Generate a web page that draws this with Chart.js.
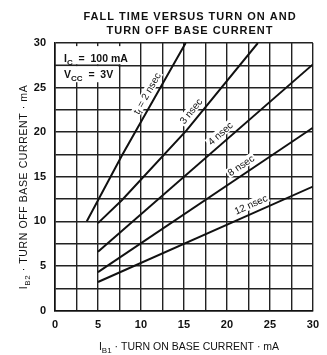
<!DOCTYPE html>
<html><head><meta charset="utf-8">
<script src="https://cdn.jsdelivr.net/npm/chart.js@4/dist/chart.umd.min.js"></script>
<style>html,body{margin:0;padding:0;background:#fff;}canvas{display:block;}</style>
</head><body>
<canvas id="c" width="327" height="355"></canvas>
<script>
// ---- data ----
const titleLines = ['FALL TIME VERSUS TURN ON AND', 'TURN OFF BASE CURRENT'];
const tickValues = [0, 5, 10, 15, 20, 25, 30];
const seriesNames = ['2 nsec', '3 nsec', '4 nsec', '8 nsec', '12 nsec'];
const ib1_2ns = [3.7, 7.8, 15.2];
const ib2_2ns = [10, 17.4, 30];
const ib1_3ns = [5, 7.8, 15.3, 23.6];
const ib2_3ns = [9.8, 12.4, 20.2, 30];
const ib1_4ns = [5, 30];
const ib2_4ns = [6.6, 27.6];
const ib1_8ns = [5, 30];
const ib2_8ns = [4.3, 20.5];
const ib1_12ns = [5, 30];
const ib2_12ns = [3.2, 13.9];
const condIc = '100 mA';
const condVcc = '3V';

const seriesX = [ib1_2ns, ib1_3ns, ib1_4ns, ib1_8ns, ib1_12ns];
const seriesY = [ib2_2ns, ib2_3ns, ib2_4ns, ib2_8ns, ib2_12ns];

// label placement (style): data x of anchor along the curve, perpendicular offset px
const labelAnchor = [11.6, 16.6, 19.9, 22.2, 23.2];
const labelOffset = [9, 9, 9, 9, 9];

const INK = '#111';
const GRID = '#222';
const FF = '"Liberation Sans", Arial, sans-serif';

function richWidth(ctx, parts) {
  let w = 0;
  for (const p of parts) { ctx.font = p.f; w += ctx.measureText(p.t).width; }
  return w;
}
function drawRich(ctx, parts, x, y, align) {
  const w = richWidth(ctx, parts);
  let cx = align === 'center' ? x - w / 2 : (align === 'right' ? x - w : x);
  ctx.textAlign = 'left';
  ctx.textBaseline = 'alphabetic';
  for (const p of parts) {
    ctx.font = p.f;
    ctx.fillText(p.t, cx, y + (p.dy || 0));
    cx += ctx.measureText(p.t).width;
  }
  return w;
}
function interp(xs, ys, x) {
  for (let i = 0; i < xs.length - 1; i++) {
    if (x >= xs[i] && x <= xs[i + 1]) {
      const t = (x - xs[i]) / (xs[i + 1] - xs[i]);
      return { y: ys[i] + t * (ys[i + 1] - ys[i]), i };
    }
  }
  return { y: ys[ys.length - 1], i: xs.length - 2 };
}

const decor = {
  id: 'decor',
  beforeDatasetsDraw(chart) {
    const { ctx, scales: { x, y } } = chart;
    ctx.save();
    ctx.fillStyle = '#fff';
    const xl = x.getPixelForValue(0) + 1;
    ctx.fillRect(xl, y.getPixelForValue(29.65), x.getPixelForValue(8.1) - xl, y.getPixelForValue(27.6) - y.getPixelForValue(29.65));
    ctx.fillRect(xl, y.getPixelForValue(27.4), x.getPixelForValue(7.35) - xl, y.getPixelForValue(25.6) - y.getPixelForValue(27.4));
    ctx.strokeStyle = GRID; ctx.lineWidth = 1.4;
    ctx.beginPath();
    ctx.moveTo(xl - 1, y.getPixelForValue(27.5));
    ctx.lineTo(x.getPixelForValue(7.6), y.getPixelForValue(27.5));
    ctx.stroke();
    ctx.fillStyle = INK;
    const bx = x.getPixelForValue(0) + 9;
    drawRich(ctx, [
      { t: 'I', f: 'bold 10.5px ' + FF },
      { t: 'C', f: 'bold 8px ' + FF, dy: 3 },
      { t: '  =  ' + condIc, f: 'bold 10.5px ' + FF }
    ], bx, y.getPixelForValue(27.85), 'left');
    drawRich(ctx, [
      { t: 'V', f: 'bold 10.5px ' + FF },
      { t: 'CC', f: 'bold 8px ' + FF, dy: 3 },
      { t: '  =  ' + condVcc, f: 'bold 10.5px ' + FF }
    ], bx, y.getPixelForValue(26.1), 'left');
    ctx.restore();
  },
  afterDatasetsDraw(chart) {
    const { ctx, scales: { x, y } } = chart;
    ctx.save();
    for (let s = 0; s < seriesNames.length; s++) {
      const xs = seriesX[s], ys = seriesY[s];
      const ax = labelAnchor[s];
      const r = interp(xs, ys, ax);
      const px = x.getPixelForValue(ax), py = y.getPixelForValue(r.y);
      const dx = x.getPixelForValue(xs[r.i + 1]) - x.getPixelForValue(xs[r.i]);
      const dy = y.getPixelForValue(ys[r.i + 1]) - y.getPixelForValue(ys[r.i]);
      const len = Math.hypot(dx, dy);
      const ux = dx / len, uy = dy / len;
      const nx = uy, ny = -ux;
      const cx = px + nx * labelOffset[s], cy = py + ny * labelOffset[s];
      const ang = Math.atan2(dy, dx);
      ctx.save();
      ctx.translate(cx, cy);
      ctx.rotate(ang);
      const f = '10px ' + FF;
      let parts;
      if (s === 0) {
        parts = [{ t: 't', f }, { t: 'f', f: '7.5px ' + FF, dy: 2.5 }, { t: ' = ' + seriesNames[s], f }];
      } else {
        parts = [{ t: seriesNames[s], f }];
      }
      const w = richWidth(ctx, parts);
      ctx.fillStyle = '#fff';
      ctx.fillRect(-w / 2 - 1.5, -5, w + 3, 10);
      ctx.fillStyle = INK;
      drawRich(ctx, parts, 0, 3.6, 'center');
      ctx.restore();
    }
    ctx.restore();
  },
  afterDraw(chart) {
    const { ctx } = chart;
    ctx.save();
    ctx.fillStyle = INK;
    ctx.font = 'bold 11px ' + FF;
    ctx.textAlign = 'center';
    ctx.textBaseline = 'alphabetic';
    ctx.letterSpacing = '1px';
    ctx.fillText(titleLines[0], 190, 19.5);
    ctx.fillText(titleLines[1], 190, 34);
    ctx.letterSpacing = '0px';
    const fx = '10.5px ' + FF;
    drawRich(ctx, [
      { t: 'I', f: fx },
      { t: 'B1', f: '8px ' + FF, dy: 3 },
      { t: ' · TURN ON BASE CURRENT · mA', f: fx }
    ], 189, 349.5, 'center');
    ctx.translate(27, 187);
    ctx.rotate(-Math.PI / 2);
    ctx.letterSpacing = '0.6px';
    drawRich(ctx, [
      { t: 'I', f: fx },
      { t: 'B2', f: '8px ' + FF, dy: 3 },
      { t: ' · TURN OFF BASE CURRENT · mA', f: fx }
    ], 0, 0, 'center');
    ctx.letterSpacing = '0px';
    ctx.restore();
  }
};

const datasets = seriesNames.map((n, s) => ({
  label: n,
  data: seriesX[s].map((v, i) => ({ x: v, y: seriesY[s][i] })),
  showLine: true,
  borderColor: INK,
  borderWidth: 2,
  pointRadius: 0,
  fill: false,
  tension: 0
}));

const tickCb = v => (tickValues.includes(v) ? String(v) : '');

new Chart(document.getElementById('c'), {
  type: 'scatter',
  data: { datasets },
  plugins: [decor],
  options: {
    responsive: false,
    animation: false,
    devicePixelRatio: 1,
    layout: { padding: { top: 43, right: 4, left: 0, bottom: 0 } },
    plugins: { legend: { display: false }, title: { display: false }, tooltip: { enabled: false } },
    scales: {
      x: {
        type: 'linear', min: 0, max: 30,
        afterFit: s => { s.height = 44.5; },
        ticks: { stepSize: 2.5, callback: tickCb, autoSkip: false, maxRotation: 0, padding: 8,
                 color: INK, font: { family: FF, size: 11, weight: 'bold' } },
        grid: { color: GRID, lineWidth: 1.4, drawTicks: false },
        border: { color: INK, width: 1.6 }
      },
      y: {
        type: 'linear', min: 0, max: 30,
        afterFit: s => { s.width = 55; },
        ticks: { stepSize: 2.5, callback: tickCb, autoSkip: false, padding: 9,
                 color: INK, font: { family: FF, size: 11, weight: 'bold' } },
        grid: { color: GRID, lineWidth: 1.4, drawTicks: false },
        border: { color: INK, width: 1.6 }
      }
    }
  }
});
</script>
</body></html>
